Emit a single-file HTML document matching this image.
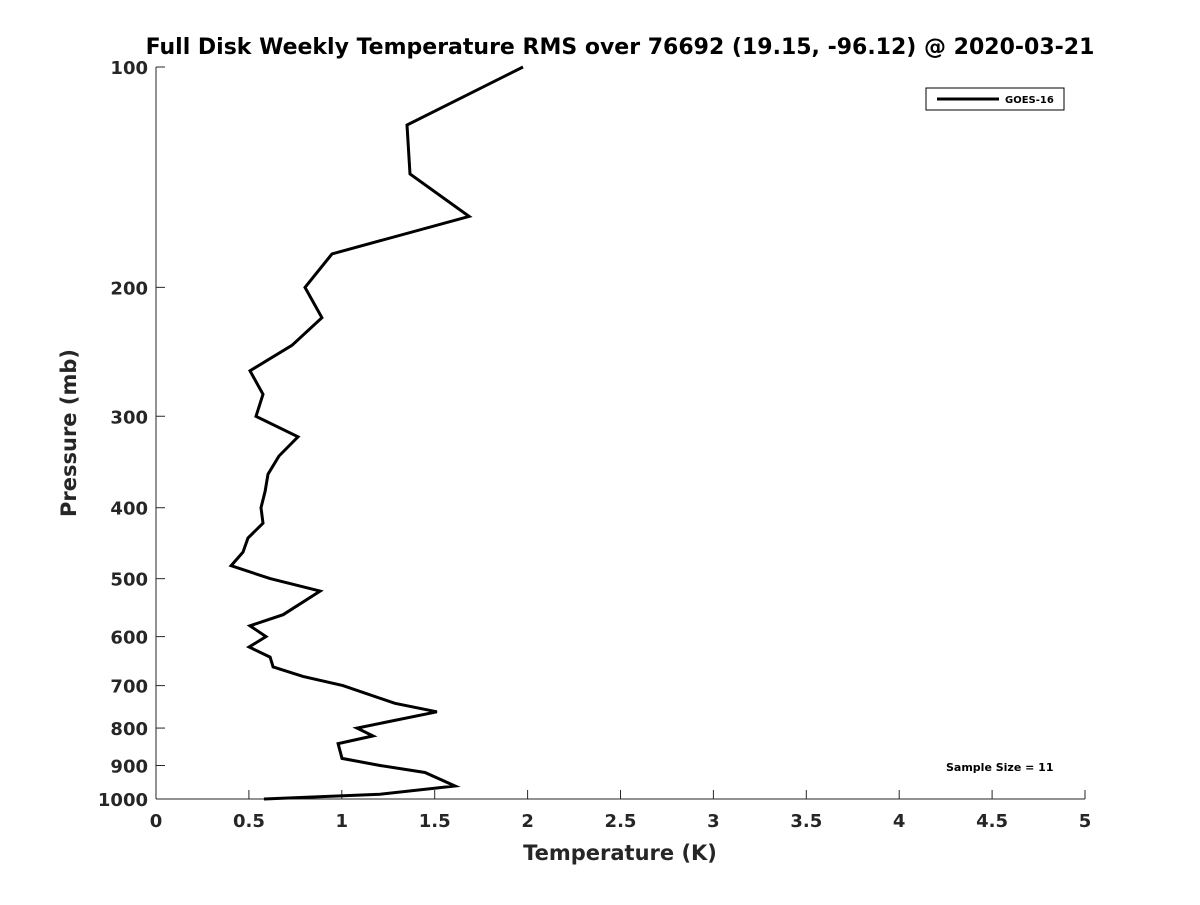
<!DOCTYPE html>
<html><head><meta charset="utf-8"><style>
body{margin:0;background:#fff;}
svg text{font-family:"DejaVu Sans","Liberation Sans",sans-serif;font-weight:bold;fill:#262626;}
</style></head><body>
<svg id="chart" width="1200" height="900" xmlns="http://www.w3.org/2000/svg">
<text x="620" y="54" text-anchor="middle" font-size="22" style="fill:#000">Full Disk Weekly Temperature RMS over 76692 (19.15, -96.12) @ 2020-03-21</text>
<g id="axes"></g>
<g id="series"></g>
<rect x="926" y="88" width="138" height="22" fill="#fff" stroke="#000" stroke-width="1"/>
<line x1="937" y1="99" x2="999" y2="99" stroke="#000" stroke-width="3"/>
<text x="1005" y="103" font-size="10" style="fill:#000">GOES-16</text>
<text x="946" y="771" font-size="11" style="fill:#000">Sample Size = 11</text>
<text x="620" y="860" text-anchor="middle" font-size="21">Temperature (K)</text>
<text transform="translate(76,433) rotate(-90)" text-anchor="middle" font-size="21">Pressure (mb)</text>
</svg>
<script>
const pressures=[100,120,140,160,180,200,220,240,260,280,300,320,340,360,380,400,420,440,460,480,500,520,560,580,600,620,640,660,680,700,740,760,800,820,840,880,900,920,960,985,1000];
const temps=[1.975,1.351,1.367,1.685,0.947,0.802,0.893,0.732,0.506,0.576,0.538,0.764,0.662,0.603,0.587,0.565,0.576,0.495,0.468,0.404,0.614,0.883,0.684,0.506,0.592,0.501,0.614,0.630,0.791,1.006,1.286,1.512,1.082,1.168,0.980,1.001,1.206,1.448,1.609,1.206,0.581];
const xTicks=[0,0.5,1,1.5,2,2.5,3,3.5,4,4.5,5];
const xTickLabels=["0","0.5","1","1.5","2","2.5","3","3.5","4","4.5","5"];
const yTicks=[100,200,300,400,500,600,700,800,900,1000];
const NS="http://www.w3.org/2000/svg";
const X0=156,X1=1085,Y0=67,Y1=799,XMAX=5;
function sx(v){return X0+(v/XMAX)*(X1-X0);}
function sy(p){return Y0+(Math.log10(p)-2)*(Y1-Y0);}
const axes=document.getElementById('axes');
function mk(tag,attrs,parent){const e=document.createElementNS(NS,tag);for(const k in attrs)e.setAttribute(k,attrs[k]);parent.appendChild(e);return e;}
const xa=mk('line',{x1:X0,y1:Y1,x2:X1,y2:Y1,stroke:'#262626','stroke-width':1},axes);


const ya=mk('line',{x1:X0,y1:Y0,x2:X0,y2:Y1,stroke:'#262626','stroke-width':1},axes);


xTicks.forEach((v,i)=>{
  const t=mk('line',{x1:sx(v),y1:Y1,x2:sx(v),y2:Y1-9,stroke:'#262626'},axes);
  
  
  const l=mk('text',{x:sx(v),y:Y1+28,'text-anchor':'middle','font-size':18},axes);
  l.textContent=xTickLabels[i];
  
  
});
yTicks.forEach(p=>{
  const t=mk('line',{x1:X0,y1:sy(p),x2:X0+9,y2:sy(p),stroke:'#262626'},axes);
  
  
  const l=mk('text',{x:X0-8,y:sy(p)+7,'text-anchor':'end','font-size':18},axes);
  l.textContent=String(p);
  
  
});
const pts=pressures.map((p,i)=>sx(temps[i]).toFixed(1)+','+sy(p).toFixed(1)).join(' ');
const line=mk('polyline',{points:pts,fill:'none',stroke:'#000','stroke-width':3,'stroke-linejoin':'miter'},document.getElementById('series'));


</script>
</body></html>
